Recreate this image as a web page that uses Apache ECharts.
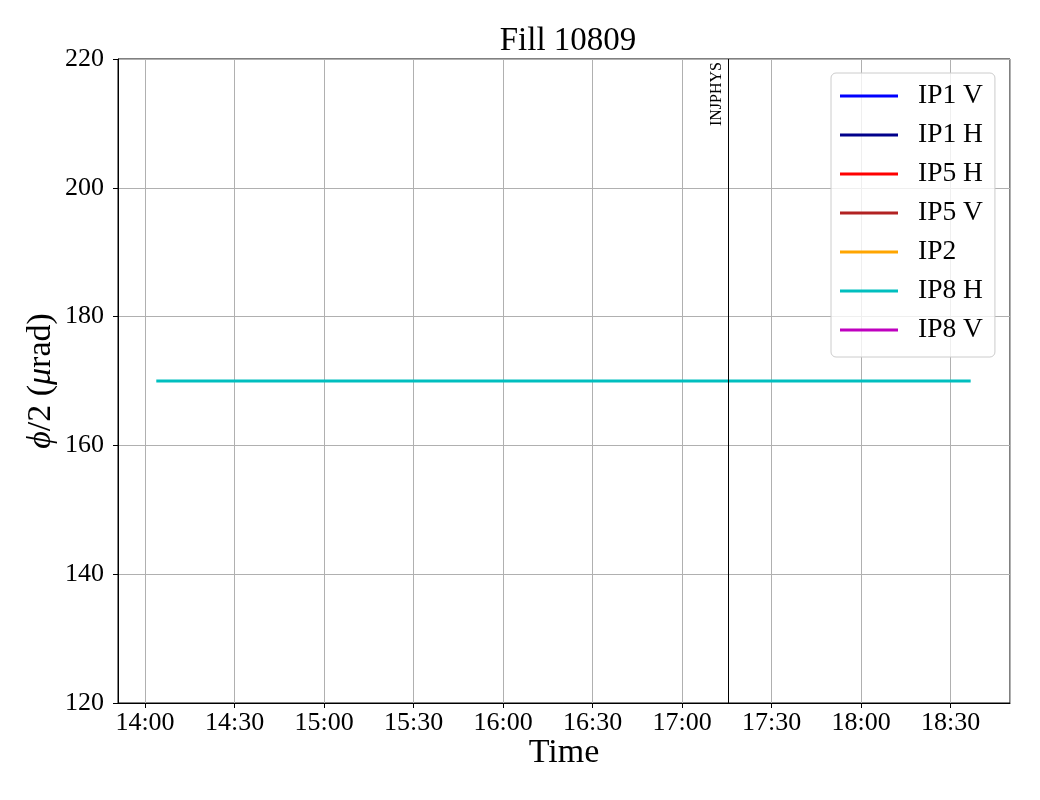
<!DOCTYPE html>
<html>
<head>
<meta charset="utf-8">
<script src="https://cdn.jsdelivr.net/npm/echarts@6/dist/echarts.min.js"></script>
<style>
html,body{margin:0;padding:0;background:#fff;}
#chart{width:1040px;height:800px;}
</style>
</head>
<body>
<div id="chart"></div>
<script>
// ---- data ----
const chartTitle = 'Fill 10809';
const seriesNames = ['IP1 V', 'IP1 H', 'IP5 H', 'IP5 V', 'IP2', 'IP8 H', 'IP8 V'];
const seriesColors = ['#0000ff', '#00008b', '#ff0000', '#b22222', '#ffa500', '#00bfbf', '#bf00bf'];
const seriesWidths = [2, 2, 2, 2, 3, 3, 3];
// times (HH:MM:SS) and crossing angle values per series
const ip1vTimes = [], ip1vValues = [];
const ip1hTimes = [], ip1hValues = [];
const ip5hTimes = [], ip5hValues = [];
const ip5vTimes = [], ip5vValues = [];
const ip2Times = [], ip2Values = [];
const ip8hTimes = ['14:03:47', '18:36:42'];
const ip8hValues = [170, 170];
const ip8vTimes = [], ip8vValues = [];
const eventTimes = ['17:15:30'];
const eventLabels = ['INJPHYS'];
const xRange = ['13:50:57', '18:49:53'];
const yTicks = [120, 140, 160, 180, 200, 220];

// ---- helpers ----
function toMin(t) {
  const p = t.split(':').map(Number);
  return p[0] * 60 + p[1] + (p[2] || 0) / 60;
}
function fmt(m) {
  const mm = Math.round(m);
  const h = Math.floor(mm / 60), mi = mm % 60;
  return h + ':' + (mi < 10 ? '0' : '') + mi;
}
const allTimes = [ip1vTimes, ip1hTimes, ip5hTimes, ip5vTimes, ip2Times, ip8hTimes, ip8vTimes];
const allValues = [ip1vValues, ip1hValues, ip5hValues, ip5vValues, ip2Values, ip8hValues, ip8vValues];

const FONT = '"Liberation Serif", "DejaVu Serif", serif';

const series = seriesNames.map((name, i) => ({
  name: name,
  type: 'line',
  symbol: 'none',
  color: seriesColors[i],
  lineStyle: { width: seriesWidths[i], color: seriesColors[i] },
  data: allTimes[i].map((t, k) => [toMin(t), allValues[i][k]]),
  z: 3
}));
// event markers
series.push({
  name: '__events',
  type: 'line',
  data: [],
  markLine: {
    silent: true,
    symbol: ['none', 'none'],
    animation: false,
    lineStyle: { color: '#000', width: 1, type: 'solid' },
    label: {
      show: true,
      position: 'insideEndTop',
      formatter: p => p.name,
      fontFamily: FONT,
      fontSize: 16,
      color: '#000',
      distance: [3, 4]
    },
    data: eventTimes.map((t, i) => ({ xAxis: toMin(t), name: eventLabels[i] }))
  }
});

const chart = echarts.init(document.getElementById('chart'), null, { renderer: 'canvas' });
chart.setOption({
  animation: false,
  backgroundColor: '#fff',
  textStyle: { fontFamily: FONT },
  title: {
    text: chartTitle,
    left: 563,
    textAlign: 'center',
    top: 20,
    textStyle: { fontFamily: FONT, fontSize: 33, fontWeight: 'normal', color: '#000' }
  },
  grid: {
    left: 118, right: 30, top: 59, bottom: 97,
    show: true, borderColor: '#000', borderWidth: 1, backgroundColor: 'transparent',
    containLabel: false
  },
  legend: {
    data: seriesNames.map((n, i) => ({ name: n, icon: 'rect', itemStyle: { color: seriesColors[i] } })),
    orient: 'vertical',
    left: 831,
    top: 73,
    itemWidth: 58,
    itemHeight: 3,
    itemGap: 9,
    padding: [8, 12, 12, 9],
    borderColor: '#cccccc',
    borderWidth: 1,
    borderRadius: 5,
    backgroundColor: 'rgba(255,255,255,0.8)',
    textStyle: { fontFamily: FONT, fontSize: 27.5, color: '#000', lineHeight: 30, padding: [0, 0, 0, 15] },
    selectedMode: false
  },
  xAxis: {
    type: 'value',
    min: toMin(xRange[0]),
    max: toMin(xRange[1]),
    splitNumber: 10,
    name: 'Time',
    nameLocation: 'middle',
    nameGap: 33,
    nameMoveOverlap: false,
    nameTextStyle: { fontFamily: FONT, fontSize: 34, color: '#000' },
    axisLine: { show: true, onZero: false, lineStyle: { color: '#000', width: 1 } },
    axisTick: { show: true, inside: false, length: 5, lineStyle: { color: '#000' } },
    axisLabel: {
      showMinLabel: false, showMaxLabel: false,
      formatter: v => fmt(v),
      fontFamily: FONT, fontSize: 26, color: '#000', margin: 7
    },
    splitLine: { show: true, lineStyle: { color: '#b0b0b0', width: 1 } }
  },
  yAxis: {
    type: 'value',
    min: yTicks[0],
    max: yTicks[yTicks.length - 1],
    interval: yTicks[1] - yTicks[0],
    name: '{i|ϕ}/2 ({i|μ}rad)',
    nameLocation: 'middle',
    nameRotate: 90,
    nameGap: 60,
    nameMoveOverlap: false,
    nameTextStyle: {
      fontFamily: FONT, fontSize: 34, color: '#000',
      rich: { i: { fontFamily: FONT, fontSize: 34, fontStyle: 'italic', color: '#000' } }
    },
    axisLine: { show: true, lineStyle: { color: '#000', width: 1 } },
    axisTick: { show: true, inside: false, length: 5, lineStyle: { color: '#000' } },
    axisLabel: { fontFamily: FONT, fontSize: 26, color: '#000', margin: 14 },
    splitLine: { show: true, lineStyle: { color: '#b0b0b0', width: 1 } }
  },
  series: series
});
</script>
</body>
</html>
